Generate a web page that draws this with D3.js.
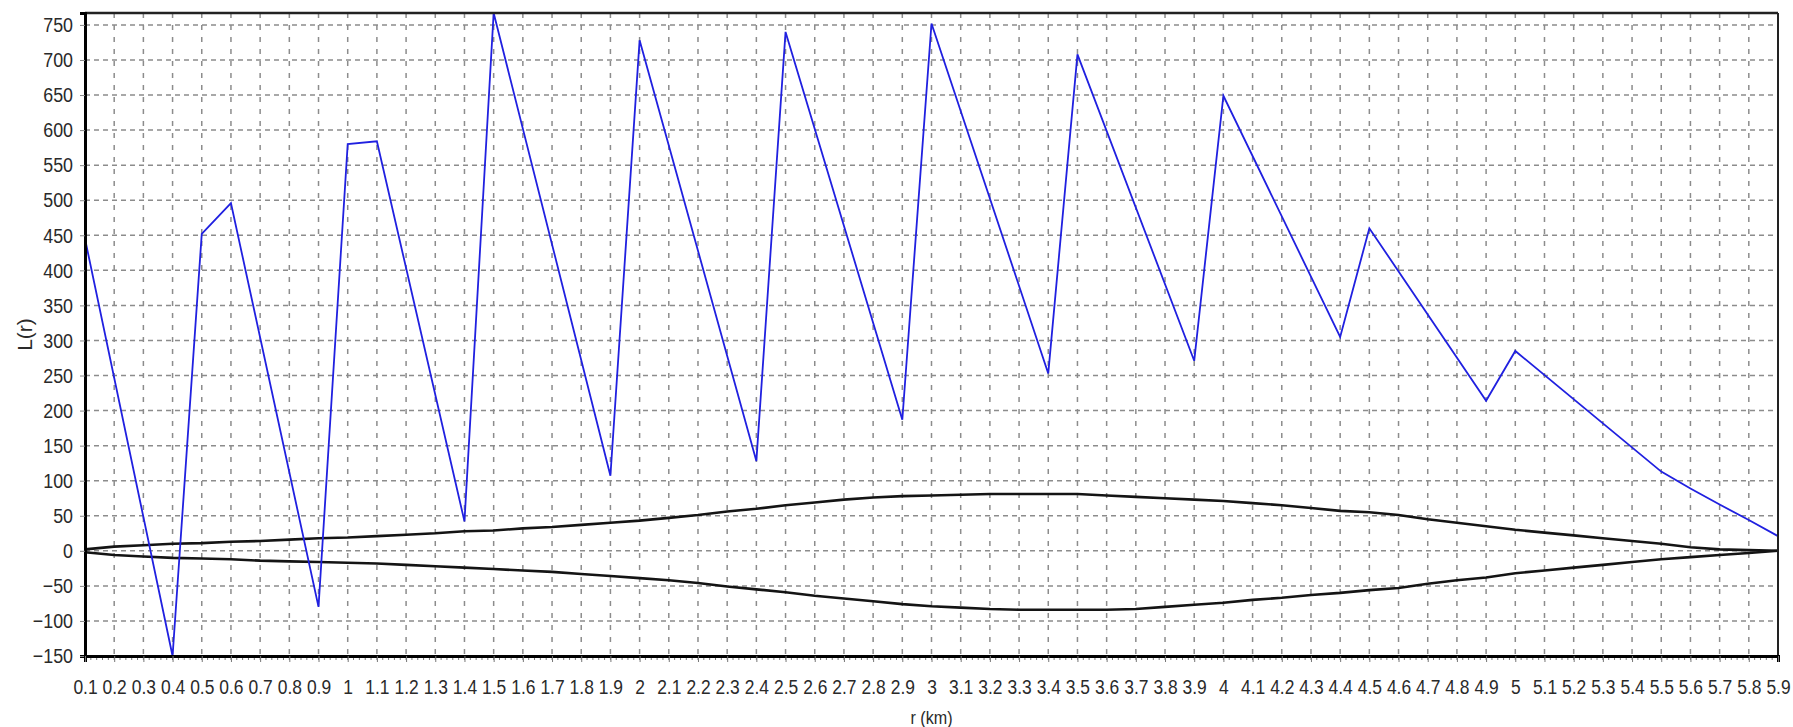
<!DOCTYPE html>
<html>
<head>
<meta charset="utf-8">
<script src="https://cdn.jsdelivr.net/npm/d3@7"></script>
<style>
  html, body { margin: 0; padding: 0; background: #ffffff; }
  svg { display: block; }
</style>
</head>
<body>
<svg id="chart" width="1793" height="727"></svg>
<script>
// ---- data ----
const xTickLabels = ["0.1","0.2","0.3","0.4","0.5","0.6","0.7","0.8","0.9","1","1.1","1.2","1.3","1.4","1.5","1.6","1.7","1.8","1.9","2","2.1","2.2","2.3","2.4","2.5","2.6","2.7","2.8","2.9","3","3.1","3.2","3.3","3.4","3.5","3.6","3.7","3.8","3.9","4","4.1","4.2","4.3","4.4","4.5","4.6","4.7","4.8","4.9","5","5.1","5.2","5.3","5.4","5.5","5.6","5.7","5.8","5.9"];
const yTickValues = [-150,-100,-50,0,50,100,150,200,250,300,350,400,450,500,550,600,650,700,750];

// L(r) observed curve (vertices)
const lrX = [0.1, 0.4, 0.5, 0.6, 0.9, 1.0, 1.1, 1.4, 1.5, 1.9, 2.0, 2.4, 2.5, 2.9, 3.0, 3.4, 3.5, 3.9, 4.0, 4.4, 4.5, 4.9, 5.0, 5.5, 5.6, 5.7, 5.8, 5.9];
const lrY = [445, -150, 452, 496, -80, 580, 584, 42, 767, 107, 728, 128, 740, 187, 752, 253, 708, 271, 649, 305, 460, 214, 285, 113, 89, 66, 44, 21];

// envelope (upper / lower bounds) at each 0.1 km
const envX = xTickLabels.map(Number);
const upperY = [2,6,8,10,11,13,14,16,18,19,21,23,25,28,29,32,34,37,40,43,47,51,56,60,65,69,73,76,78,79,80,81,81,81,81,79,77,75,73,71,68,65,61,57,55,51,45,40,35,30,26,22,18,14,10,5,2,1,0];
const lowerY = [-2,-6,-8,-10,-11,-12,-14,-15,-16,-17,-18,-20,-22,-24,-26,-28,-30,-33,-36,-39,-42,-46,-51,-55,-59,-64,-68,-72,-76,-79,-81,-83,-84,-84,-84,-84,-83,-80,-77,-74,-70,-67,-63,-60,-56,-53,-47,-42,-38,-32,-28,-24,-20,-16,-12,-9,-6,-3,0];

const yMax = 767;
const yMin = -150;

// ---- layout ----
const L = 85, R = 1778, T = 13, B = 656;
const SX = 0.85; // horizontal condensing of text
const svg = d3.select("#chart");
const x = d3.scaleLinear().domain([0.1, 5.9]).range([L, R]);
const y = d3.scaleLinear().domain([yMin, yMax]).range([B, T]);
const font = "'Liberation Sans', Arial, sans-serif";
const txtColor = "#2a2a2a";

// gridlines
const grid = svg.append("g").attr("stroke", "#8c8c8c").attr("stroke-width", 1.5).attr("fill", "none");
grid.selectAll("line.h").data(yTickValues.filter(v => v > yMin)).join("line")
  .attr("x1", L).attr("x2", R)
  .attr("y1", d => y(d)).attr("y2", d => y(d))
  .attr("stroke-dasharray", "5,4");
grid.selectAll("line.v").data(envX.filter(v => v > 0.1 && v < 5.9)).join("line")
  .attr("x1", d => x(d)).attr("x2", d => x(d))
  .attr("y1", T).attr("y2", B)
  .attr("stroke-dasharray", "5,7");

// minor ticks along the bottom
const minor = d3.range(0, 291).map(i => 0.1 + i * 0.02);
svg.append("g").attr("stroke", "#777").attr("stroke-width", 1)
  .selectAll("line").data(minor).join("line")
  .attr("x1", d => x(d)).attr("x2", d => x(d))
  .attr("y1", B).attr("y2", B + 4);

// envelope lines
const lineEnv = d3.line().x((d, i) => x(envX[i])).y(d => y(d));
svg.append("path").attr("d", lineEnv(upperY))
  .attr("fill", "none").attr("stroke", "#141414").attr("stroke-width", 2.6);
svg.append("path").attr("d", lineEnv(lowerY))
  .attr("fill", "none").attr("stroke", "#141414").attr("stroke-width", 2.6);

// L(r) line
const lineL = d3.line().x((d, i) => x(lrX[i])).y(d => y(d));
svg.append("path").attr("d", lineL(lrY))
  .attr("fill", "none").attr("stroke", "#2020e0").attr("stroke-width", 1.8);

// frame
svg.append("line").attr("x1", L).attr("x2", R).attr("y1", T).attr("y2", T)
  .attr("stroke", "#222").attr("stroke-width", 2.5);
svg.append("line").attr("x1", R).attr("x2", R).attr("y1", T).attr("y2", B)
  .attr("stroke", "#222").attr("stroke-width", 2);

// y axis
const yAxis = d3.axisLeft(y).tickValues(yTickValues).tickSize(5).tickPadding(7).tickFormat(d3.format("d"));
const gy = svg.append("g").attr("transform", `translate(${L},0)`).call(yAxis);
gy.select(".domain").attr("stroke", "#000").attr("stroke-width", 3);
gy.selectAll(".tick line").attr("stroke", "#888");
gy.selectAll(".tick text").attr("font-family", font).attr("font-size", 21).attr("fill", txtColor)
  .attr("x", -12 / SX).attr("transform", `scale(${SX},1)`);

// x axis
const xAxis = d3.axisBottom(x).tickValues(envX).tickSize(6).tickFormat((d, i) => xTickLabels[i]);
const gx = svg.append("g").attr("transform", `translate(0,${B})`).call(xAxis);
gx.select(".domain").attr("stroke", "#000").attr("stroke-width", 3);
gx.selectAll(".tick line").attr("stroke", "#777");
gx.selectAll(".tick text").attr("font-family", font).attr("font-size", 20.5).attr("fill", txtColor)
  .attr("dy", null).attr("y", 38).attr("transform", `scale(${SX},1)`);

// axis titles
svg.append("text").attr("transform", `translate(32,${(T + B) / 2}) rotate(-90)`)
  .attr("text-anchor", "middle").attr("font-family", font).attr("font-size", 21).attr("fill", txtColor)
  .text("L(r)");
svg.append("text").attr("transform", `translate(${(L + R) / 2},724) scale(${SX},1)`)
  .attr("text-anchor", "middle").attr("font-family", font).attr("font-size", 19).attr("fill", txtColor)
  .text("r (km)");
</script>
</body>
</html>
